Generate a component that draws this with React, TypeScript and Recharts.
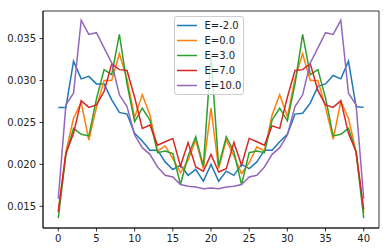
import { LineChart, Line, XAxis, YAxis, Legend, ReferenceArea } from 'recharts';

const xs = [
  0, 1, 2, 3, 4, 5, 6, 7, 8, 9, 10, 11, 12, 13, 14, 15, 16, 17, 18, 19, 20,
  21, 22, 23, 24, 25, 26, 27, 28, 29, 30, 31, 32, 33, 34, 35, 36, 37, 38, 39, 40,
];

const eMinus2 = [
  0.0268, 0.0268, 0.0323, 0.0302, 0.0305, 0.0296, 0.0296, 0.0277, 0.0262, 0.026,
  0.0237, 0.0228, 0.0217, 0.0217, 0.0203, 0.0194, 0.0199, 0.0187, 0.0194, 0.018,
  0.02, 0.018, 0.0192, 0.0187, 0.02, 0.0195, 0.0203, 0.0217, 0.0217, 0.0227,
  0.0236, 0.026, 0.0261, 0.0273, 0.0293, 0.0296, 0.0306, 0.0302, 0.0323, 0.0269,
  0.0268,
];
const e0 = [
  0.0142, 0.0215, 0.0255, 0.0274, 0.0229, 0.0268, 0.03, 0.03, 0.0332, 0.0302,
  0.0256, 0.0283, 0.0259, 0.0216, 0.0222, 0.0207, 0.019, 0.0205, 0.0229, 0.0195,
  0.0267, 0.0195, 0.0229, 0.021, 0.0189, 0.0202, 0.0221, 0.0216, 0.0259, 0.0283,
  0.0257, 0.0302, 0.0332, 0.03, 0.03, 0.0268, 0.023, 0.0275, 0.0255, 0.0215,
  0.0142,
];
const e3 = [
  0.0136, 0.0212, 0.0243, 0.0236, 0.0234, 0.0278, 0.0313, 0.0307, 0.0355, 0.0296,
  0.0251, 0.0267, 0.0253, 0.0214, 0.0216, 0.0213, 0.0176, 0.021, 0.0233, 0.0198,
  0.033, 0.0198, 0.0233, 0.0215, 0.0176, 0.0214, 0.0216, 0.0214, 0.0253, 0.0267,
  0.0252, 0.0296, 0.0355, 0.0307, 0.0313, 0.0279, 0.0234, 0.0236, 0.0243, 0.0215,
  0.0136,
];
const e7 = [
  0.0144, 0.0213, 0.0237, 0.0276, 0.0268, 0.0271, 0.0287, 0.032, 0.0313, 0.0312,
  0.028, 0.0243, 0.0247, 0.0223, 0.0227, 0.0231, 0.0198, 0.0226, 0.0197, 0.0192,
  0.0212, 0.0191, 0.0195, 0.0226, 0.0199, 0.0231, 0.0227, 0.0223, 0.0246, 0.0243,
  0.028, 0.0312, 0.0313, 0.032, 0.0288, 0.0271, 0.0268, 0.0276, 0.0237, 0.0215,
  0.0146,
];
const e10 = [
  0.0159, 0.0271, 0.0285, 0.0372, 0.0355, 0.0357, 0.0339, 0.0321, 0.0283, 0.0269,
  0.0235, 0.022, 0.0212, 0.0197, 0.0187, 0.0185, 0.0176, 0.0174, 0.0173, 0.0171,
  0.0172, 0.0171, 0.0173, 0.0174, 0.0176, 0.0185, 0.0187, 0.0197, 0.0212, 0.022,
  0.0235, 0.0269, 0.0283, 0.0321, 0.0339, 0.0357, 0.0355, 0.0372, 0.0285, 0.0271,
  0.0159,
];

const xTicks = [0, 5, 10, 15, 20, 25, 30, 35, 40];
const yTicks = [0.015, 0.02, 0.025, 0.03, 0.035];
const xDomain = [-2, 42];
const yDomain = [0.01242, 0.03829];

const series = [
  { key: 'em2', name: 'E=-2.0', values: eMinus2, color: '#1f77b4' },
  { key: 'e0', name: 'E=0.0', values: e0, color: '#ff7f0e' },
  { key: 'e3', name: 'E=3.0', values: e3, color: '#2ca02c' },
  { key: 'e7', name: 'E=7.0', values: e7, color: '#d62728' },
  { key: 'e10', name: 'E=10.0', values: e10, color: '#9467bd' },
];

const data = xs.map((x, i) => {
  const row: Record<string, number> = { x };
  series.forEach((s) => {
    row[s.key] = s.values[i];
  });
  return row;
});

const tickStyle = { fill: '#222', fontSize: 10 };

const order = (name: string) => series.findIndex((s) => s.name === name);

function LegendBox({ payload }: any) {
  const items = [...(payload || [])].sort((a: any, b: any) => order(a.value) - order(b.value));
  return (
    <div
      style={{
        border: '1px solid #cccccc',
        borderRadius: 3,
        background: 'rgba(255,255,255,0.8)',
        padding: '1px 2px 1px 1.5px',
        fontFamily: 'DejaVu Sans',
        fontSize: 10,
        color: '#222',
      }}
    >
      {items.map((p: any) => (
        <div
          key={p.value}
          style={{ height: 15, display: 'flex', alignItems: 'center' }}
        >
          <svg width={20} height={15} style={{ marginRight: 8 }}>
            <line x1={0} y1={7.5} x2={20} y2={7.5} stroke={p.color} strokeWidth={1.5} />
          </svg>
          <span>{p.value}</span>
        </div>
      ))}
    </div>
  );
}

export default function App() {
  return (
    <div style={{ position: 'absolute', left: 0, top: 0 }}>
      <LineChart
        width={388}
        height={252}
        data={data}
        margin={{ top: 11, right: 9, bottom: 0, left: 0 }}
        style={{ fontFamily: 'DejaVu Sans' }}
      >
        <XAxis
          dataKey="x"
          type="number"
          domain={xDomain}
          ticks={xTicks}
          height={24}
          stroke="#000"
          strokeWidth={0.8}
          tickSize={3.5}
          tickMargin={3}
          tick={tickStyle}
        />
        <YAxis
          type="number"
          domain={yDomain}
          ticks={yTicks}
          width={43}
          stroke="#000"
          strokeWidth={0.8}
          tickSize={3.5}
          tickMargin={3.5}
          tick={tickStyle}
          tickFormatter={(v: number) => v.toFixed(3)}
          allowDataOverflow
        />
        <ReferenceArea
          x1={xDomain[0]}
          x2={xDomain[1]}
          y1={yDomain[0]}
          y2={yDomain[1]}
          fill="none"
          fillOpacity={0}
          stroke="#000"
          strokeWidth={0.8}
          ifOverflow="visible"
        />
        <Legend
          layout="vertical"
          align="center"
          verticalAlign="middle"
          content={<LegendBox />}
          wrapperStyle={{ left: 174, top: 16, width: 'auto' }}
        />
        {series.map((s) => (
          <Line
            key={s.key}
            dataKey={s.key}
            name={s.name}
            stroke={s.color}
            strokeWidth={1.5}
            dot={false}
            type="linear"
            isAnimationActive={false}
          />
        ))}
      </LineChart>
    </div>
  );
}
